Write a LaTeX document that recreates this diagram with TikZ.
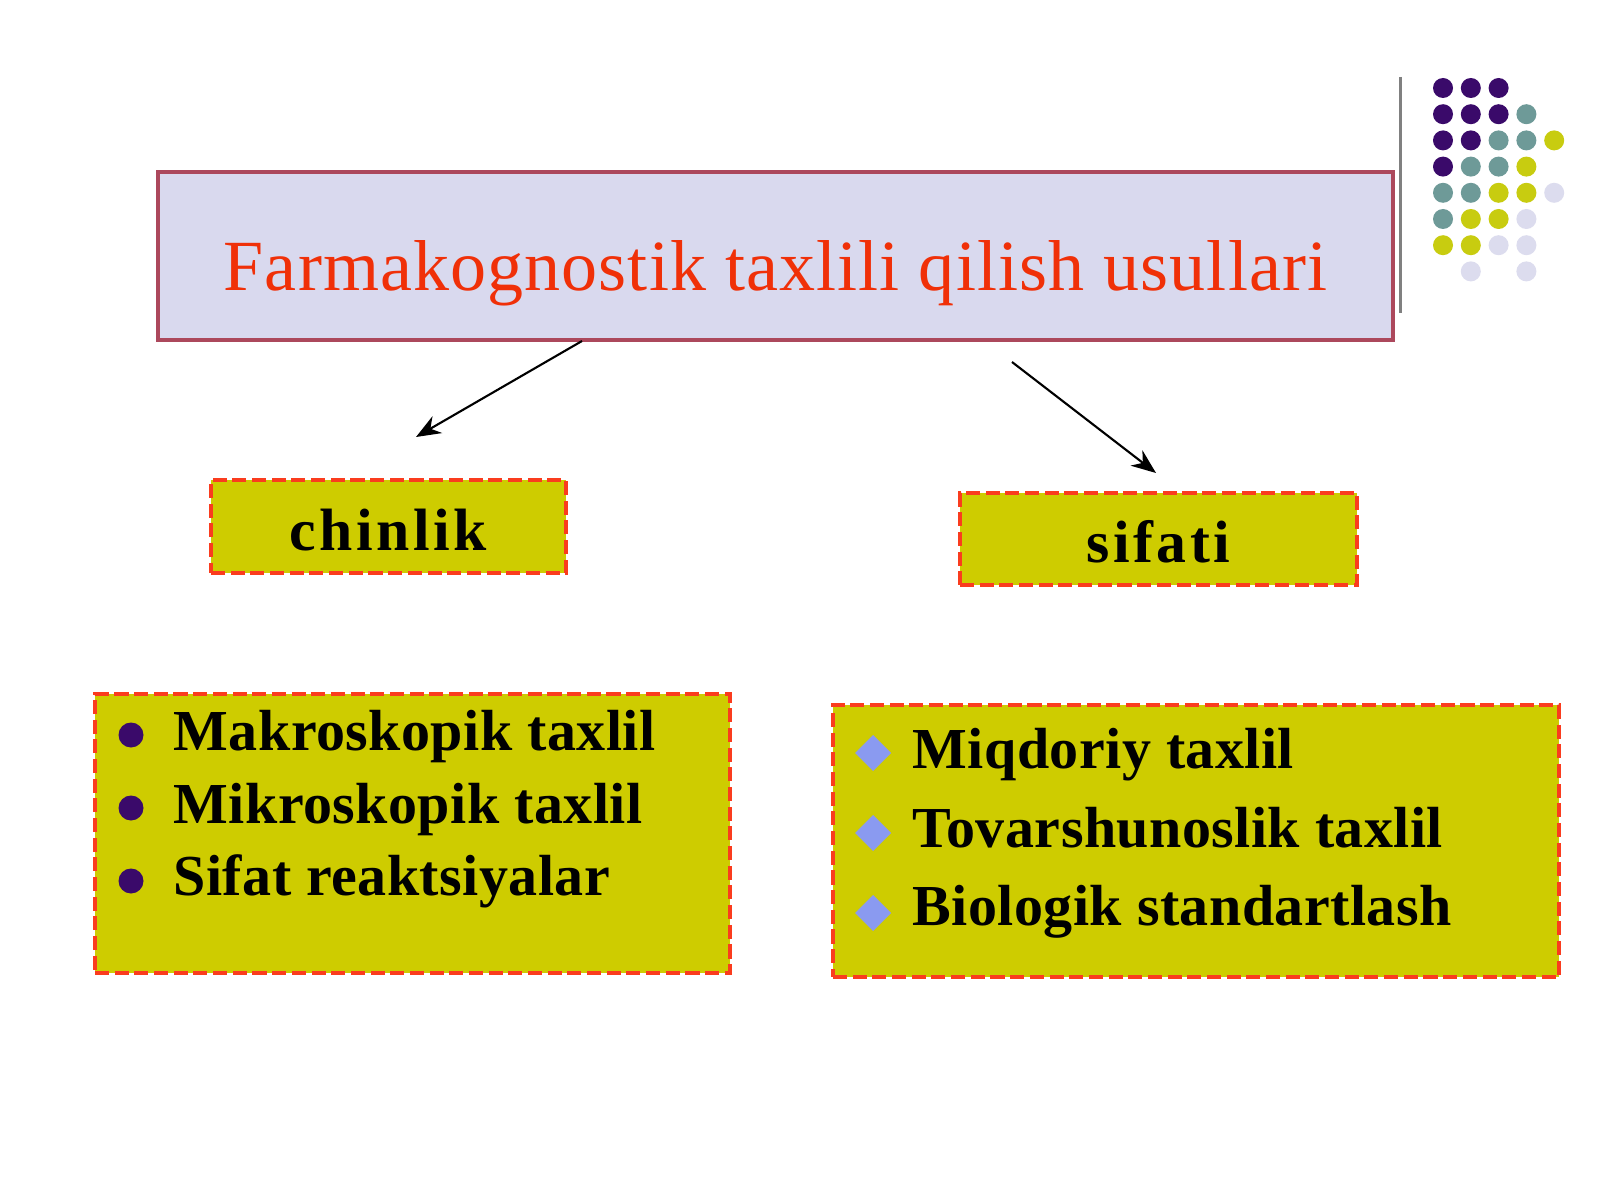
\documentclass[tikz,border=0pt]{standalone}
\usepackage{fontspec}
\setmainfont{Liberation Serif}
\usetikzlibrary{arrows.meta}
\definecolor{titlefill}{RGB}{217,217,238}
\definecolor{titleborder}{RGB}{172,72,92}
\definecolor{titletext}{RGB}{240,48,8}
\definecolor{boxyellow}{RGB}{206,204,0}
\definecolor{dashred}{RGB}{250,60,30}
\definecolor{bulletpurple}{RGB}{58,10,106}
\definecolor{diamondblue}{RGB}{138,154,240}
\definecolor{dotP}{RGB}{58,10,106}
\definecolor{dotT}{RGB}{110,154,152}
\definecolor{dotY}{RGB}{200,204,16}
\definecolor{dotL}{RGB}{220,220,238}
\definecolor{rulegray}{RGB}{128,128,128}
\begin{document}
\begin{tikzpicture}[x=0.1mm,y=-0.1mm,
  titlebox/.style={draw=titleborder, fill=titlefill, line width=0.9pt, inner sep=0pt,
    minimum width=123.5mm, minimum height=16.8mm, text height=8mm, text depth=1.2mm,
    font=\fontsize{20.5pt}{24pt}\selectfont\addfontfeature{LetterSpace=1.5}, text=titletext},
  dashbox/.style={fill=boxyellow, draw=dashred, line width=0.9pt, dash pattern=on 4pt off 1.6pt,
    preaction={draw=rulegray, line width=0.4pt}, inner sep=0pt},
  catlabel/.style={font=\bfseries\fontsize{17pt}{20pt}\selectfont\addfontfeature{LetterSpace=6}, text=black},
  itemtext/.style={anchor=base west, inner sep=0pt, font=\bfseries\fontsize{16.5pt}{20pt}\selectfont\addfontfeature{LetterSpace=0.8}, text=black},
  arrowline/.style={draw=black, line width=0.6pt, -{Stealth[length=7pt,width=5.5pt]}}
]
\useasboundingbox[fill=white] (0,0) rectangle (1600,1200);

% decorative dots and rule
\draw[rulegray, line width=0.85pt] (1400,77) -- (1400,313);
\foreach \c/\r/\col in {0/0/dotP,1/0/dotP,2/0/dotP,
  0/1/dotP,1/1/dotP,2/1/dotP,3/1/dotT,
  0/2/dotP,1/2/dotP,2/2/dotT,3/2/dotT,4/2/dotY,
  0/3/dotP,1/3/dotT,2/3/dotT,3/3/dotY,
  0/4/dotT,1/4/dotT,2/4/dotY,3/4/dotY,4/4/dotL,
  0/5/dotT,1/5/dotY,2/5/dotY,3/5/dotL,
  0/6/dotY,1/6/dotY,2/6/dotL,3/6/dotL,
  1/7/dotL,3/7/dotL}
  \fill[\col] ({1443+27.8*\c},{88+26.2*\r}) circle[radius=10];

% title
\node[titlebox] (title) at (775.5,256) {Farmakognostik taxlili qilish usullari};

% categories
\node[dashbox, catlabel, minimum width=35.5mm, minimum height=9.3mm, text height=4.7mm, text depth=0mm] (chinlik) at (388.5,526.5) {chinlik};
\node[dashbox, catlabel, minimum width=39.7mm, minimum height=9.2mm, text height=4.6mm, text depth=0mm] (sifati) at (1158.5,539) {sifati};

% arrows
\coordinate (a1s) at (582,341);
\coordinate (a1e) at (416,437);
\coordinate (a2s) at (1012,362);
\coordinate (a2e) at (1156,473);
\draw[arrowline] (a1s) -- (a1e);
\draw[arrowline] (a2s) -- (a2e);

% list boxes
\node[dashbox, minimum width=63.5mm, minimum height=27.9mm] (leftlist) at (412.5,833.5) {};
\node[dashbox, minimum width=72.6mm, minimum height=27.2mm] (rightlist) at (1196,841) {};

% left items
\fill[bulletpurple] (131,735) circle[radius=12.5];
\fill[bulletpurple] (131,808) circle[radius=12.5];
\fill[bulletpurple] (131,881) circle[radius=12.5];
\node[itemtext] (l1) at (173,750) {Makroskopik taxlil};
\node[itemtext] (l2) at (173,823) {Mikroskopik taxlil};
\node[itemtext] (l3) at (173,895) {Sifat reaktsiyalar};

% right items
\foreach \yy in {753,833,913}
  \fill[diamondblue] (873,\yy-18) -- (891,\yy) -- (873,\yy+18) -- (855,\yy) -- cycle;
\node[itemtext] (r1) at (912,768) {Miqdoriy taxlil};
\node[itemtext] (r2) at (912,847) {Tovarshunoslik taxlil};
\node[itemtext] (r3) at (912,925) {Biologik standartlash};
\end{tikzpicture}
\end{document}
